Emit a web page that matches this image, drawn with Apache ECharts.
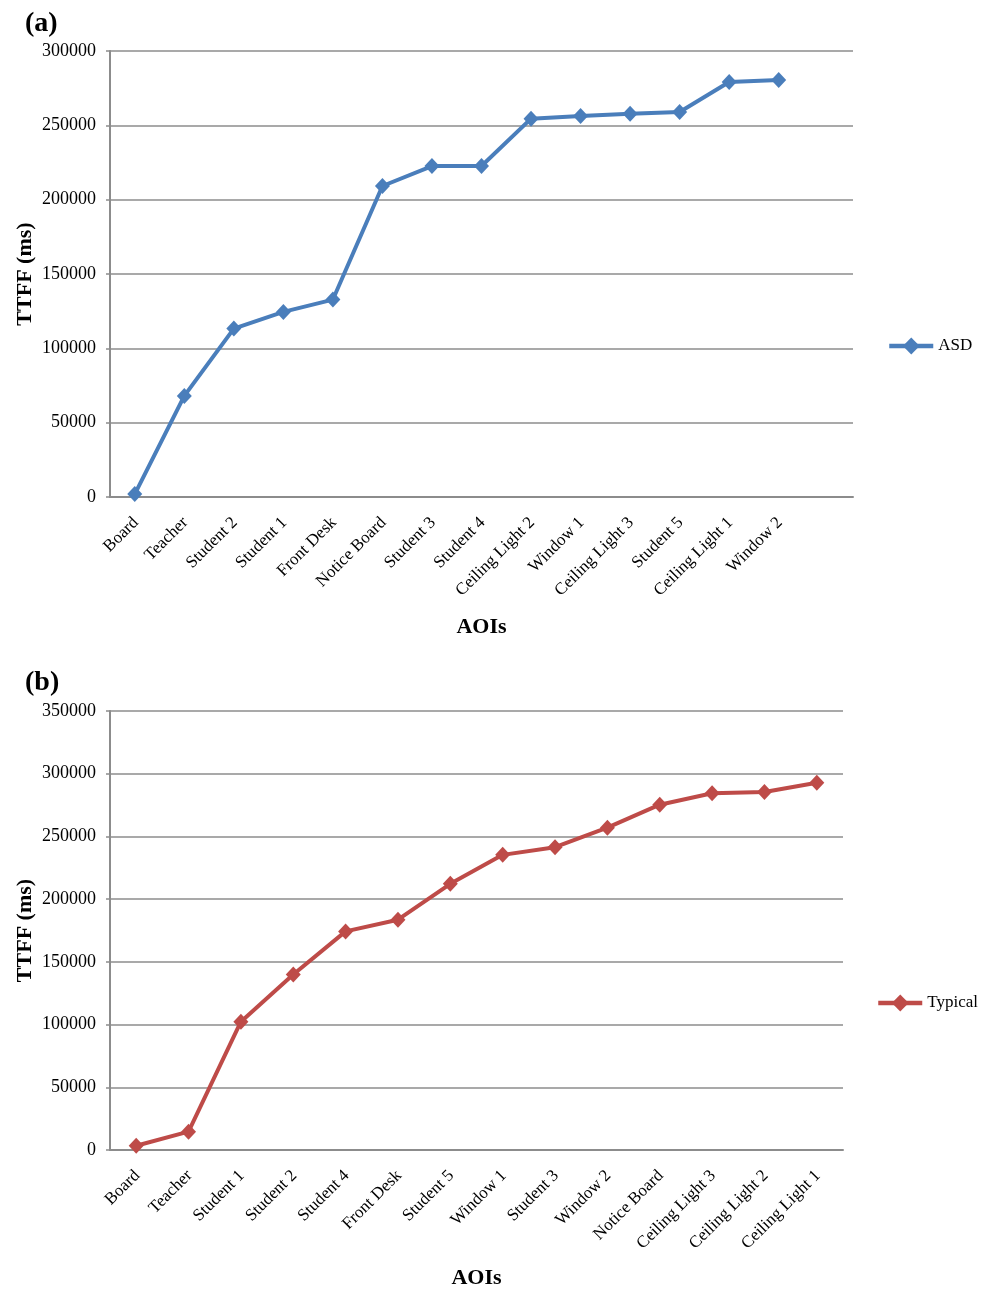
<!DOCTYPE html>
<html>
<head>
<meta charset="utf-8">
<script src="https://cdn.jsdelivr.net/npm/echarts@6/dist/echarts.min.js"></script>
<style>html,body{margin:0;padding:0;background:#fff;}#chart{width:989px;height:1290px;}</style>
</head>
<body>
<div id="chart"></div>
<script>
// Panel (a) – ASD
var categoriesA = ['Board', 'Teacher', 'Student 2', 'Student 1', 'Front Desk', 'Notice Board', 'Student 3', 'Student 4', 'Ceiling Light 2', 'Window 1', 'Ceiling Light 3', 'Student 5', 'Ceiling Light 1', 'Window 2', ''];
var valuesASD = [2000, 68000, 113300, 124500, 132800, 209200, 222600, 222600, 254500, 256300, 257800, 259000, 279100, 280500];
var ticksA = { min: 0, max: 300000, interval: 50000 };

// Panel (b) – Typical
var categoriesB = ['Board', 'Teacher', 'Student 1', 'Student 2', 'Student 4', 'Front Desk', 'Student 5', 'Window 1', 'Student 3', 'Window 2', 'Notice Board', 'Ceiling Light 3', 'Ceiling Light 2', 'Ceiling Light 1'];
var valuesTypical = [3400, 14600, 102300, 139900, 174300, 183600, 212200, 235300, 241400, 257000, 275300, 284400, 285400, 292800];
var ticksB = { min: 0, max: 350000, interval: 50000 };

var FONT = "'Liberation Serif', 'Times New Roman', serif";
var BLUE = '#4A7EBB', RED = '#BE4B48', GRIDC = '#8c8c8c';

function xAxisCfg(idx, cats, gap) {
  return {
    type: 'category', gridIndex: idx, data: cats, boundaryGap: true,
    name: 'AOIs', nameLocation: 'middle', nameGap: gap,
    nameTextStyle: { fontFamily: FONT, fontSize: 22, fontWeight: 'bold', color: '#000' },
    axisLine: { show: true, lineStyle: { color: GRIDC, width: 2 } },
    axisTick: { show: false },
    axisLabel: { interval: 0, rotate: 45, margin: 12, fontFamily: FONT, fontSize: 17, color: '#000',
      align: 'right', verticalAlign: 'top', lineHeight: 17, padding: [0, 7, 0, 0] },
    splitLine: { show: false }
  };
}
function yAxisCfg(idx, t) {
  return {
    type: 'value', gridIndex: idx, min: t.min, max: t.max, interval: t.interval,
    name: 'TTFF (ms)', nameLocation: 'middle', nameGap: 74, nameRotate: 90, nameMoveOverlap: false,
    nameTextStyle: { fontFamily: FONT, fontSize: 22, fontWeight: 'bold', color: '#000' },
    axisLine: { show: true, lineStyle: { color: GRIDC, width: 2 } },
    axisTick: { show: true, length: 4, inside: false, lineStyle: { color: GRIDC, width: 1.5 } },
    axisLabel: { margin: 14, fontFamily: FONT, fontSize: 18, color: '#000',
      formatter: function (v) { return String(v); } },
    splitLine: { show: true, lineStyle: { color: GRIDC, width: 1.5 } }
  };
}
function legendCfg(name, left, centerY) {
  return { data: [name], left: left, top: centerY - 10.5, padding: 0, itemWidth: 44, itemHeight: 21, itemGap: 5,
    lineStyle: { width: 4.5 },
    textStyle: { fontFamily: FONT, fontSize: 17, color: '#000' } };
}

var chart = echarts.init(document.getElementById('chart'), null, { renderer: 'canvas' });
chart.setOption({
  animation: false,
  backgroundColor: '#fff',
  title: [
    { text: '(a)', left: 25, top: 10, padding: 0, textStyle: { fontFamily: FONT, fontSize: 28, fontWeight: 'bold', color: '#000' } },
    { text: '(b)', left: 25, top: 669, padding: 0, textStyle: { fontFamily: FONT, fontSize: 28, fontWeight: 'bold', color: '#000' } }
  ],
  legend: [legendCfg('ASD', 887, 348), legendCfg('Typical', 876, 1005)],
  grid: [
    { left: 110, top: 51, width: 743, height: 446, containLabel: false },
    { left: 110, top: 711, width: 733, height: 440, containLabel: false }
  ],
  xAxis: [xAxisCfg(0, categoriesA, 119), xAxisCfg(1, categoriesB, 117)],
  yAxis: [yAxisCfg(0, ticksA), yAxisCfg(1, ticksB)],
  series: [
    { name: 'ASD', type: 'line', xAxisIndex: 0, yAxisIndex: 0, data: valuesASD,
      symbol: 'diamond', symbolSize: [15, 16], showAllSymbol: true,
      lineStyle: { color: BLUE, width: 4 }, itemStyle: { color: BLUE } },
    { name: 'Typical', type: 'line', xAxisIndex: 1, yAxisIndex: 1, data: valuesTypical,
      symbol: 'diamond', symbolSize: [15, 16], showAllSymbol: true,
      lineStyle: { color: RED, width: 4 }, itemStyle: { color: RED } }
  ]
});
</script>
</body>
</html>
